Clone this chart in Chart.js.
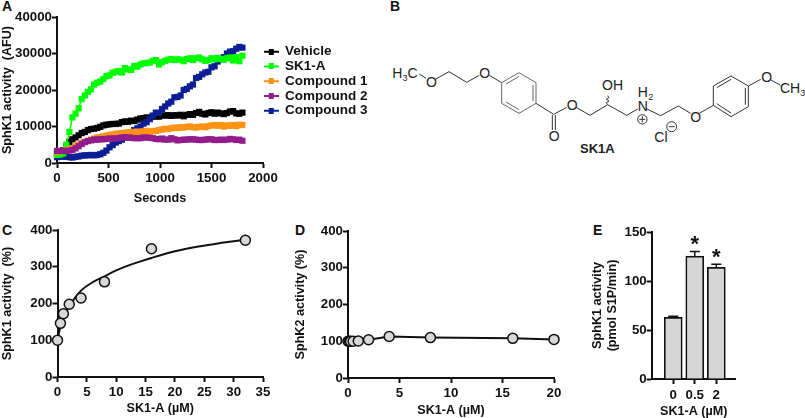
<!DOCTYPE html>
<html>
<head>
<meta charset="utf-8">
<title>SK1-A</title>
<script src="https://cdn.jsdelivr.net/npm/chart.js@4"></script>
<style>
  html, body { margin: 0; padding: 0; background: #fff; }
  #page { position: relative; width: 805px; height: 418px; overflow: hidden; font-family: "Liberation Sans", Arial, sans-serif; color: #111; }
  canvas { position: absolute; display: block; }
  .letter { position: absolute; font-size: 14px; font-weight: bold; line-height: 14px; }
  svg { position: absolute; left: 370px; top: 0; }
  svg line, svg polyline, svg polygon, svg circle, svg path { stroke: #333; stroke-width: 3; fill: none; }
  svg text { font-family: "Liberation Sans", Arial, sans-serif; font-size: 42px; fill: #222; }
</style>
</head>
<body>
<div id="page">
  <div class="letter" style="left:2px;top:-1px">A</div>
  <div class="letter" style="left:390px;top:-1px">B</div>
  <div class="letter" style="left:2px;top:223px">C</div>
  <div class="letter" style="left:295px;top:223px">D</div>
  <div class="letter" style="left:593px;top:223px">E</div>

  <canvas id="chartA" width="370" height="212" style="left:0;top:0"></canvas>
  <canvas id="chartC" width="290" height="203" style="left:0;top:215px"></canvas>
  <canvas id="chartD" width="290" height="203" style="left:290px;top:215px"></canvas>
  <canvas id="chartE" width="215" height="203" style="left:590px;top:215px"></canvas>

  <!-- estructura de SK1A, coordenadas en la escala del recorte 3x -->
  <svg width="435" height="170" viewBox="0 0 1305 510">
    <polyline points="148,222 168,235"/>
    <polyline points="196,238 237,215 290,247 328,226"/>
    <polyline points="358,226 395,248"/>
    <polygon points="395,248 447,218 498,248 498,310 447,340 395,310" style="stroke:#666"/>
    <line x1="408" y1="252" x2="447" y2="229" style="stroke:#666"/>
    <line x1="489" y1="255" x2="489" y2="303" style="stroke:#666"/>
    <line x1="408" y1="306" x2="447" y2="329" style="stroke:#666"/>
    <polyline points="498,310 551,343 590,322"/>
    <line x1="547" y1="345" x2="547" y2="390"/>
    <line x1="556" y1="345" x2="556" y2="390"/>
    <polyline points="618,322 660,346 713,314 770,346 803,327"/>
    <path d="M713,314 l-4,-6 l8,-5 l-8,-5 l8,-5 l-4,-6"/>
    <polyline points="831,327 872,347 925,318 962,340"/>
    <polyline points="988,340 1030,316"/>
    <polygon points="1030,316 1030,258 1083,228 1135,258 1135,320 1083,350"/>
    <line x1="1040" y1="263" x2="1083" y2="238"/>
    <line x1="1126" y1="264" x2="1126" y2="314"/>
    <line x1="1040" y1="311" x2="1083" y2="339"/>
    <polyline points="1135,258 1172,238"/>
    <polyline points="1203,240 1232,256"/>
    <circle cx="817" cy="358" r="14"/>
    <line x1="808" y1="358" x2="826" y2="358"/>
    <line x1="817" y1="349" x2="817" y2="367"/>
    <circle cx="905" cy="380" r="15"/>
    <line x1="896" y1="380" x2="914" y2="380"/>
    <text x="67" y="233">H<tspan font-size="27" dy="9">3</tspan><tspan dy="-9">C</tspan></text>
    <text x="168" y="262">O</text>
    <text x="328" y="233">O</text>
    <text x="536" y="422">O</text>
    <text x="590" y="330">O</text>
    <text x="696" y="270">OH</text>
    <text x="803" y="291">H<tspan font-size="27" dy="9" dx="1">2</tspan></text>
    <text x="803" y="334">N</text>
    <text x="961" y="365">O</text>
    <text x="1174" y="245">O</text>
    <text x="1230" y="279">CH<tspan font-size="27" dy="9">3</tspan></text>
    <text x="853" y="426">Cl</text>
    <text x="630" y="458" style="font-weight:bold;font-size:39px">SK1A</text>
  </svg>
</div>

<script>
// Panel A
const secondsA = [0, 30, 60, 90, 120, 150, 180, 210, 240, 270,
  300, 330, 360, 390, 420, 450, 480, 510, 540, 570,
  600, 630, 660, 690, 720, 750, 780, 810, 840, 870,
  900, 930, 960, 990, 1020, 1050, 1080, 1110, 1140, 1170,
  1200, 1230, 1260, 1290, 1320, 1350, 1380, 1410, 1440, 1470,
  1500, 1530, 1560, 1590, 1620, 1650, 1680, 1710, 1740, 1770,
  1800];
const vehicle = [2500, 3000, 3500, 4500, 5800, 6500, 7000, 7600, 8200, 8500,
  9000, 9300, 9400, 9600, 9900, 10300, 10500, 10600, 10700, 10700,
  10800, 11200, 11400, 11300, 11600, 11500, 11900, 12200, 12300, 12500,
  12300, 12700, 12800, 12700, 13000, 13000, 13100, 12900, 13100, 13000,
  13200, 12800, 13200, 13400, 13200, 13700, 14000, 13500, 13300, 13700,
  13900, 13500, 13800, 13600, 13400, 13700, 14100, 14200, 13600, 13500,
  13800];
const sk1a = [2200, 2300, 2600, 5000, 8500, 12500, 13500, 15000, 17500, 18500,
  19500, 20200, 21500, 22000, 22300, 23000, 23800, 24000, 24700, 25000,
  25200, 24800, 26000, 25600, 25500, 26600, 26400, 27000, 27300, 27400,
  27500, 28000, 28200, 27000, 27600, 28000, 28300, 28500, 28200, 28400,
  28300, 27900, 28500, 28700, 28200, 28700, 28900, 28400, 28000, 28200,
  28700, 28400, 28800, 28500, 28300, 28700, 28900, 28100, 29000, 27900,
  29400];
const compound1 = [3000, 3200, 3300, 3500, 3800, 4100, 4600, 5000, 5500, 5800,
  6100, 6400, 6700, 7000, 7100, 7300, 7500, 7700, 7800, 8000,
  8100, 8200, 8300, 8400, 8400, 8500, 8600, 8500, 8700, 8800,
  8600, 8700, 8800, 9000, 9200, 9400, 9300, 9500, 9700, 9600,
  9800, 9700, 9900, 10000, 9800, 9700, 9900, 10000, 9800, 10100,
  10300, 10400, 10200, 10400, 10000, 10300, 10200, 10400, 10100, 10500,
  10400];
const compound2 = [3300, 3300, 3300, 3300, 3400, 3600, 4000, 4600, 5200, 5700,
  6000, 6200, 6400, 6400, 6500, 6500, 6600, 6700, 6700, 6700,
  6800, 7000, 7100, 7000, 6900, 6800, 6800, 6800, 7000, 7000,
  6900, 6800, 6600, 6500, 6700, 6400, 6400, 6800, 6500, 6200,
  6300, 6400, 6400, 6500, 6500, 6400, 6300, 6300, 6400, 6500,
  6500, 6300, 6300, 6400, 6300, 6400, 6600, 6500, 6300, 6400,
  6100];
const compound3 = [1600, 1700, 1800, 1700, 1600, 1500, 1700, 1800, 2000, 2100,
  2100, 2200, 2100, 2200, 2400, 2800, 3400, 4300, 4900, 5600,
  6000, 6400, 7000, 7800, 8300, 9000, 9500, 10000, 10800, 11200,
  12000, 13000, 13800, 13700, 14800, 15500, 16300, 16800, 18000, 18100,
  18500, 20000, 20300, 21000, 21500, 23300, 23600, 24300, 24800, 25000,
  26200, 26500, 27800, 28500, 29000, 30000, 30500, 30600, 31300, 31800,
  31600];
const legendNames = ["Vehicle", "SK1-A", "Compound 1", "Compound 2", "Compound 3"];
const ticksA = [0, 500, 1000, 1500, 2000];

// Panel C
const doseC = [0, 0.5, 1, 2, 4, 8, 16, 32];
const activityC = [100, 146, 172, 198, 215, 259, 349, 372];
const fitDoseC = [0, 0.25, 0.5, 1, 1.5, 2, 3, 4, 6, 8, 10, 12, 14, 16, 20, 24, 28, 32];
const fitC = [100, 120, 136, 160, 178, 192, 216, 235, 258, 274, 290, 303, 314, 324, 342, 355, 365, 374];

// Panel D
const doseD = [0, 0.125, 0.25, 0.5, 1, 2, 4, 8, 16, 20];
const activityD = [100, 100, 100, 100, 101, 104, 113, 110, 108, 105];

// Panel E
const doseE = ["0", "0.5", "2"];
const rateE = [63, 125.5, 114];
const errorE = [1, 4.5, 3];
const starsE = ["", "*", "*"];

const ink = "#111";
const tickFont = { family: "Liberation Sans", size: 13.3, weight: "bold" };
const titleFont = { family: "Liberation Sans", size: 12.6, weight: "bold" };

function axis(min, max, step, titleText, titlePad, labelPad) {
  return {
    type: "linear",
    min: min,
    max: max,
    title: { display: true, text: titleText, color: ink, font: titleFont, padding: titlePad },
    border: { display: true, color: ink, width: 2 },
    grid: { display: true, drawOnChartArea: false, drawTicks: true, tickLength: 5, tickWidth: 2, tickColor: ink },
    ticks: {
      stepSize: step,
      color: ink,
      font: tickFont,
      padding: labelPad,
      maxRotation: 0,
      autoSkip: false,
      callback: function (v) { return String(v); }
    }
  };
}

function fixBoxes(options, yWidth, xHeight) {
  options.scales.y.afterFit = function (scale) { scale.width = yWidth; };
  options.scales.x.afterFit = function (scale) { scale.height = xHeight; };
  return options;
}

function baseOptions(padding) {
  return {
    responsive: false,
    animation: false,
    devicePixelRatio: 1,
    layout: { padding: padding },
    plugins: { legend: { display: false }, tooltip: { enabled: false } }
  };
}

function pairs(xs, ys) {
  return xs.map(function (x, i) { return { x: x, y: ys[i] }; });
}

// Muestra de leyenda: línea con cuadrado al centro
function legendSwatch(color) {
  const c = document.createElement("canvas");
  c.width = 15;
  c.height = 6;
  const g = c.getContext("2d");
  g.fillStyle = color;
  g.fillRect(0, 2, 15, 2);
  g.fillRect(5, 0, 5, 6);
  return c;
}

function loadPanelA() {
  const series = [
    { label: legendNames[0], values: vehicle, color: "#000000", order: 5 },
    { label: legendNames[1], values: sk1a, color: "#00ff00", order: 3 },
    { label: legendNames[2], values: compound1, color: "#ff9214", order: 2 },
    { label: legendNames[3], values: compound2, color: "#931c8d", order: 1 },
    { label: legendNames[4], values: compound3, color: "#0b1e94", order: 4 }
  ];
  const options = baseOptions({ top: 17, right: 107, left: 0, bottom: 0 });
  options.scales = {
    x: axis(0, 2000, 500, "Seconds", { top: 4, bottom: 6 }, 2),
    y: axis(0, 40000, 10000, "SphK1 activity  (AFU)", { top: 0, bottom: 0 }, 0)
  };
  options.scales.x.afterBuildTicks = function (scale) {
    scale.ticks = ticksA.map(function (v) { return { value: v }; });
  };
  fixBoxes(options, 57, 49);
  options.plugins.legend = {
    display: true,
    position: "chartArea",
    align: "start",
    labels: {
      usePointStyle: true,
      pointStyleWidth: 14,
      color: ink,
      font: { family: "Liberation Sans", size: 13.5, weight: "bold", lineHeight: 1 },
      padding: 1.25,
      generateLabels: function () {
        return series.map(function (s, i) {
          return { text: s.label, pointStyle: legendSwatch(s.color), datasetIndex: i, fontColor: ink, lineWidth: 0 };
        });
      }
    }
  };
  const moveLegend = {
    id: "moveLegend",
    afterLayout: function (chart) {
      const lg = chart.legend;
      lg.left = 263;
      lg.right = lg.left + lg.width;
      lg.top = 43.7;
      lg.bottom = lg.top + lg.height;
    }
  };
  new Chart(document.getElementById("chartA"), {
    type: "scatter",
    data: {
      datasets: series.map(function (s) {
        return {
          label: s.label,
          data: pairs(secondsA, s.values),
          showLine: true,
          borderColor: s.color,
          backgroundColor: s.color,
          borderWidth: 1.5,
          pointStyle: "rect",
          pointRadius: 4.4,
          pointBorderWidth: 0,
          clip: false,
          order: s.order
        };
      })
    },
    options: options,
    plugins: [moveLegend]
  });
}

function loadPanelC() {
  const options = baseOptions({ top: 15, right: 27, left: 0, bottom: 0 });
  options.scales = {
    x: axis(0, 35, 5, "SK1-A (\u00b5M)", { top: 4, bottom: 1.5 }, 2),
    y: axis(0, 400, 100, "SphK1 activity  (%)", { top: 0, bottom: 0 }, 0)
  };
  fixBoxes(options, 57.5, 41);
  new Chart(document.getElementById("chartC"), {
    type: "scatter",
    data: {
      datasets: [
        {
          data: pairs(doseC, activityC),
          backgroundColor: "#d8d8d8",
          borderColor: "#111",
          borderWidth: 1.5,
          pointRadius: 5,
          clip: false,
          order: 1
        },
        {
          data: pairs(fitDoseC, fitC),
          showLine: true,
          borderColor: "#111",
          borderWidth: 2,
          pointRadius: 0,
          cubicInterpolationMode: "monotone",
          clip: false,
          order: 2
        }
      ]
    },
    options: options
  });
}

function loadPanelD() {
  const options = baseOptions({ top: 16, right: 26, left: 0, bottom: 0 });
  options.scales = {
    x: axis(0, 20, 5, "SK1-A (\u00b5M)", { top: 4, bottom: 0 }, 2),
    y: axis(0, 400, 100, "SphK2 activity (%)", { top: 3, bottom: 0 }, 0)
  };
  fixBoxes(options, 58, 40);
  new Chart(document.getElementById("chartD"), {
    type: "scatter",
    data: {
      datasets: [{
        data: pairs(doseD, activityD),
        showLine: true,
        backgroundColor: "#d8d8d8",
        borderColor: "#111",
        pointBorderColor: "#111",
        borderWidth: 2,
        pointBorderWidth: 1.5,
        pointRadius: 5,
        clip: false
      }]
    },
    options: options
  });
}

function loadPanelE() {
  const options = baseOptions({ top: 17, right: 69.3, left: 0, bottom: 0 });
  options.scales = {
    x: axis(-1, 2.9, 1, "SK1-A (\u00b5M)", { top: 6, bottom: -1 }, 3),
    y: axis(0, 150, 50, "", { top: 0, bottom: 0 }, 0)
  };
  // el eje x de una barra trae offset por defecto; aquí debe ser lineal puro
  options.scales.x.offset = false;
  options.scales.x.grid.offset = false;
  options.scales.x.afterBuildTicks = function (scale) {
    scale.ticks = doseE.map(function (d, i) { return { value: i }; });
  };
  options.scales.x.ticks.callback = function (v) { return doseE[v]; };
  options.scales.y.title = {
    display: true,
    text: ["SphK1 activity", "(pmol S1P/min)"],
    color: ink,
    font: { family: "Liberation Sans", size: 12.6, weight: "bold", lineHeight: 1.2 },
    padding: 0
  };
  fixBoxes(options, 61.7, 39);
  // Barras de error y asteriscos, tomados de errorE y starsE
  const errorBars = {
    id: "errorBars",
    afterDatasetsDraw: function (chart) {
      const c = chart.ctx;
      const xs = chart.scales.x;
      const ys = chart.scales.y;
      c.save();
      c.strokeStyle = ink;
      c.lineWidth = 1.5;
      c.fillStyle = ink;
      c.textAlign = "center";
      c.font = "bold 22px 'Liberation Sans'";
      rateE.forEach(function (v, i) {
        const px = xs.getPixelForValue(i);
        const top = ys.getPixelForValue(v + errorE[i]);
        c.beginPath();
        c.moveTo(px, ys.getPixelForValue(v));
        c.lineTo(px, top);
        c.moveTo(px - 5, top);
        c.lineTo(px + 5, top);
        c.stroke();
        if (starsE[i]) c.fillText(starsE[i], px, top - 0.5);
      });
      c.restore();
    }
  };
  new Chart(document.getElementById("chartE"), {
    type: "bar",
    data: {
      datasets: [{
        data: pairs([0, 1, 2], rateE),
        backgroundColor: "#d6d6d6",
        borderColor: "#111",
        borderWidth: 1.7,
        barThickness: 18
      }]
    },
    options: options,
    plugins: [errorBars]
  });
}

document.addEventListener("DOMContentLoaded", function () {
  loadPanelA();
  loadPanelC();
  loadPanelD();
  loadPanelE();
});
</script>
</body>
</html>
